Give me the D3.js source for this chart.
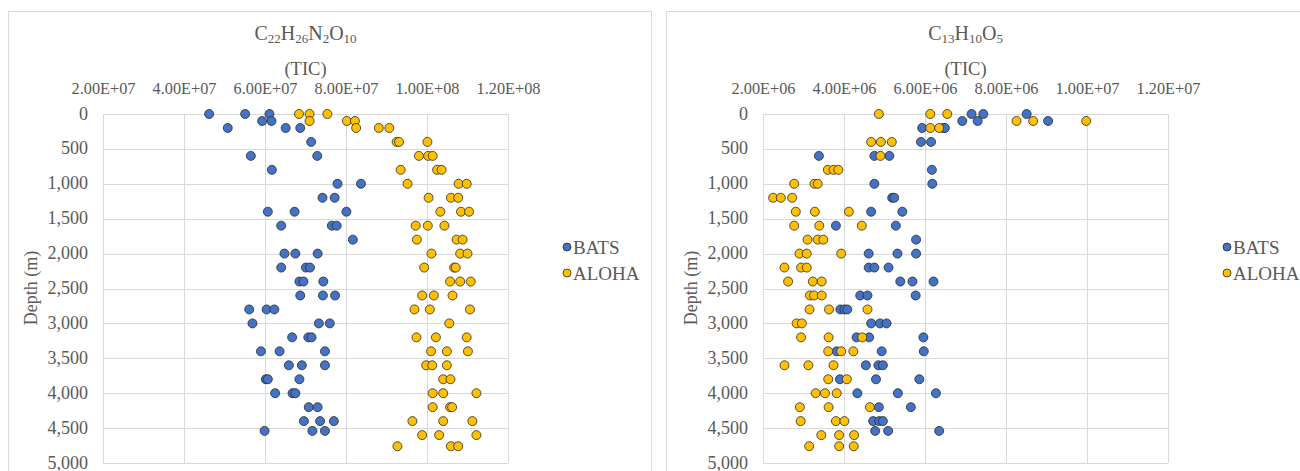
<!DOCTYPE html>
<html>
<head>
	<meta charset="utf-8">
	<title>TIC vs depth</title>
	<script src="https://d3js.org/d3.v7.min.js"></script>
	<style type="text/css">
		*
		{
			margin:0;
			padding:0;
		}
		body
		{
			background:#fff;
		}
		.grid line
		{
			stroke:#d9d9d9;
			stroke-width:1;
		}
		.axis path
		{
			display:none;
		}
	</style>
</head>
<body>
	<div id="chart"></div>
	<script>
		// ---- data: [depth (m), TIC] ----
		const depthTicks = [0, 500, 1000, 1500, 2000, 2500, 3000, 3500, 4000, 4500, 5000];
		const seriesNames = ["BATS", "ALOHA"];

		const c22Title = [["C", 0], ["22", 1], ["H", 0], ["26", 1], ["N", 0], ["2", 1], ["O", 0], ["10", 1]];
		const c22Ticks = [2e7, 4e7, 6e7, 8e7, 1e8, 1.2e8];
		const c22Bats = [
			[0, 4.62e7], [0, 5.51e7], [0, 6.11e7],
			[100, 5.93e7], [100, 6.16e7],
			[200, 5.08e7], [200, 6.51e7], [200, 6.87e7],
			[400, 7.14e7],
			[600, 5.65e7], [600, 7.29e7],
			[800, 6.17e7],
			[1000, 7.79e7], [1000, 8.37e7],
			[1200, 7.42e7], [1200, 7.72e7],
			[1400, 6.07e7], [1400, 6.73e7], [1400, 8.01e7],
			[1600, 6.40e7], [1600, 7.65e7], [1600, 7.77e7],
			[1800, 8.17e7],
			[2000, 6.48e7], [2000, 6.75e7], [2000, 7.30e7],
			[2200, 6.40e7], [2200, 7.01e7], [2200, 7.11e7],
			[2400, 6.85e7], [2400, 6.95e7], [2400, 7.44e7],
			[2600, 6.87e7], [2600, 7.43e7], [2600, 7.73e7],
			[2800, 5.61e7], [2800, 6.04e7], [2800, 6.23e7],
			[3000, 5.69e7], [3000, 7.33e7], [3000, 7.60e7],
			[3200, 6.67e7], [3200, 7.07e7], [3200, 7.15e7],
			[3400, 5.90e7], [3400, 6.36e7], [3400, 7.48e7],
			[3600, 6.59e7], [3600, 6.91e7], [3600, 7.48e7],
			[3800, 6.02e7], [3800, 6.07e7], [3800, 6.85e7],
			[4000, 6.25e7], [4000, 6.68e7], [4000, 6.75e7],
			[4200, 7.08e7], [4200, 7.30e7],
			[4400, 6.96e7], [4400, 7.36e7], [4400, 7.70e7],
			[4540, 5.99e7], [4540, 7.17e7], [4540, 7.48e7]
		];
		const c22Aloha = [
			[0, 6.84e7], [0, 7.10e7], [0, 7.54e7],
			[100, 7.10e7], [100, 8.02e7], [100, 8.22e7],
			[200, 8.25e7], [200, 8.81e7], [200, 9.07e7],
			[400, 9.25e7], [400, 9.31e7], [400, 1.001e8],
			[600, 9.80e7], [600, 1.003e8], [600, 1.014e8],
			[800, 9.35e7], [800, 1.025e8], [800, 1.036e8],
			[1000, 9.52e7], [1000, 1.078e8], [1000, 1.098e8],
			[1200, 1.004e8], [1200, 1.059e8], [1200, 1.077e8],
			[1400, 1.033e8], [1400, 1.084e8], [1400, 1.104e8],
			[1600, 9.72e7], [1600, 1.002e8], [1600, 1.043e8],
			[1800, 9.75e7], [1800, 1.073e8], [1800, 1.088e8],
			[2000, 1.011e8], [2000, 1.082e8], [2000, 1.100e8],
			[2200, 9.93e7], [2200, 1.067e8], [2200, 1.071e8],
			[2400, 1.057e8], [2400, 1.082e8], [2400, 1.108e8],
			[2600, 9.88e7], [2600, 1.017e8], [2600, 1.063e8],
			[2800, 9.69e7], [2800, 1.007e8], [2800, 1.106e8],
			[3000, 1.055e8],
			[3200, 9.74e7], [3200, 1.022e8], [3200, 1.098e8],
			[3400, 1.010e8], [3400, 1.049e8], [3400, 1.101e8],
			[3600, 9.98e7], [3600, 1.013e8], [3600, 1.049e8],
			[3800, 1.040e8], [3800, 1.058e8],
			[4000, 1.014e8], [4000, 1.040e8], [4000, 1.122e8],
			[4200, 1.014e8], [4200, 1.057e8], [4200, 1.062e8],
			[4400, 9.64e7], [4400, 1.040e8], [4400, 1.112e8],
			[4600, 9.88e7], [4600, 1.030e8], [4600, 1.122e8],
			[4760, 9.27e7], [4760, 1.059e8], [4760, 1.077e8]
		];

		const c13Title = [["C", 0], ["13", 1], ["H", 0], ["10", 1], ["O", 0], ["5", 1]];
		const c13Ticks = [2e6, 4e6, 6e6, 8e6, 1e7, 1.2e7];
		const c13Bats = [
			[0, 7.15e6], [0, 7.44e6], [0, 8.51e6],
			[100, 6.92e6], [100, 7.30e6], [100, 9.04e6],
			[200, 5.93e6], [200, 6.45e6], [200, 6.49e6],
			[400, 5.90e6], [400, 6.15e6],
			[600, 3.38e6], [600, 4.75e6], [600, 5.12e6],
			[800, 6.17e6],
			[1000, 4.75e6], [1000, 6.18e6],
			[1200, 5.19e6], [1200, 5.24e6],
			[1400, 4.67e6], [1400, 5.44e6],
			[1600, 3.80e6], [1600, 5.28e6],
			[1800, 5.78e6],
			[2000, 4.61e6], [2000, 5.32e6], [2000, 5.78e6],
			[2200, 4.61e6], [2200, 4.75e6], [2200, 5.10e6],
			[2400, 5.39e6], [2400, 5.69e6], [2400, 6.21e6],
			[2600, 4.40e6], [2600, 4.58e6], [2600, 5.77e6],
			[2800, 3.91e6], [2800, 4.01e6], [2800, 4.08e6],
			[3000, 4.67e6], [3000, 4.89e6], [3000, 5.05e6],
			[3200, 4.31e6], [3200, 4.62e6], [3200, 5.96e6],
			[3400, 3.82e6], [3400, 4.93e6], [3400, 5.97e6],
			[3600, 4.54e6], [3600, 4.85e6], [3600, 4.96e6],
			[3800, 3.90e6], [3800, 4.79e6], [3800, 5.86e6],
			[4000, 4.33e6], [4000, 5.33e6], [4000, 6.27e6],
			[4200, 4.86e6], [4200, 5.65e6],
			[4400, 4.72e6], [4400, 4.87e6], [4400, 4.96e6],
			[4540, 4.77e6], [4540, 5.09e6], [4540, 6.35e6]
		];
		const c13Aloha = [
			[0, 4.86e6], [0, 6.13e6], [0, 6.55e6],
			[100, 8.26e6], [100, 8.67e6], [100, 9.98e6],
			[200, 6.13e6], [200, 6.35e6],
			[400, 4.67e6], [400, 4.91e6], [400, 5.18e6],
			[600, 4.90e6],
			[800, 3.60e6], [800, 3.74e6], [800, 3.86e6],
			[1000, 2.77e6], [1000, 3.27e6], [1000, 3.35e6],
			[1200, 2.25e6], [1200, 2.44e6], [1200, 2.72e6],
			[1400, 2.81e6], [1400, 3.28e6], [1400, 4.12e6],
			[1600, 2.77e6], [1600, 3.39e6], [1600, 4.44e6],
			[1800, 3.10e6], [1800, 3.35e6], [1800, 3.49e6],
			[2000, 2.90e6], [2000, 3.08e6], [2000, 3.93e6],
			[2200, 2.53e6], [2200, 2.94e6], [2200, 3.08e6],
			[2400, 2.62e6], [2400, 3.23e6], [2400, 3.45e6],
			[2600, 3.16e6], [2600, 3.26e6], [2600, 3.45e6],
			[2800, 3.15e6], [2800, 3.63e6], [2800, 4.58e6],
			[3000, 2.83e6], [3000, 2.96e6],
			[3200, 2.94e6], [3200, 3.62e6], [3200, 4.45e6],
			[3400, 3.61e6], [3400, 3.93e6], [3400, 4.23e6],
			[3600, 2.53e6], [3600, 3.12e6], [3600, 3.74e6],
			[3800, 3.61e6], [3800, 4.07e6],
			[4000, 3.30e6], [4000, 3.53e6], [4000, 3.82e6],
			[4200, 2.91e6], [4200, 3.62e6], [4200, 4.64e6],
			[4400, 2.93e6], [4400, 3.80e6], [4400, 4.01e6],
			[4600, 3.44e6], [4600, 3.88e6], [4600, 4.25e6],
			[4760, 3.14e6], [4760, 3.88e6], [4760, 4.24e6]
		];

		const colors = ["#4472c4", "#ffc000"];
		const width = 1300, height = 471;
		const serif = "Liberation Serif";

		const svg = d3.select("#chart").append("svg")
			.attr("width", width).attr("height", height)
			.style("display", "block");

		// excel style 2.00E+07
		function sci(v) {
			let s = v.toExponential(2).toUpperCase();
			let parts = s.split("E");
			let exp = parseInt(parts[1]);
			let sign = exp < 0 ? "-" : "+";
			let e = Math.abs(exp);
			return parts[0] + "E" + sign + (e < 10 ? "0" + e : e);
		}

		function label(sel, size) {
			return sel.attr("font-family", serif)
				.attr("font-size", size)
				.attr("fill", "#595959");
		}

		function drawPanel(p) {
			const g = svg.append("g");

			// panel border
			g.append("rect")
				.attr("x", p.box[0] + 0.5).attr("y", p.box[1] + 0.5)
				.attr("width", p.box[2]).attr("height", p.box[3])
				.attr("fill", "#fff").attr("stroke", "#d9d9d9");

			const x = d3.scaleLinear().domain([p.ticks[0], p.ticks[p.ticks.length - 1]]).range([p.left, p.right]);
			const y = d3.scaleLinear().domain([0, 5000]).range([114, 463]);
			const mid = (p.left + p.right) / 2;

			// gridlines
			const grid = g.append("g").attr("class", "grid");
			grid.selectAll(".v").data(p.ticks).enter().append("line")
				.attr("x1", d => Math.round(x(d)) + 0.5).attr("x2", d => Math.round(x(d)) + 0.5)
				.attr("y1", y(0)).attr("y2", y(5000));
			grid.selectAll(".h").data(depthTicks).enter().append("line")
				.attr("x1", p.left).attr("x2", p.right)
				.attr("y1", d => Math.round(y(d)) + 0.5).attr("y2", d => Math.round(y(d)) + 0.5);

			const top = g.append("g").attr("class", "axis")
				.attr("transform", "translate(0,94)")
				.call(d3.axisTop(x).tickValues(p.ticks).tickSize(0).tickPadding(0).tickFormat(sci));
			top.attr("font-family", serif).attr("font-size", 16.3);
			label(top.selectAll("text"), 16.3).attr("dy", 0);

			const left = g.append("g").attr("class", "axis")
				.attr("transform", "translate(" + (p.left - 15) + ",0)")
				.call(d3.axisLeft(y).tickValues(depthTicks).tickSize(0).tickPadding(0).tickFormat(d3.format(",")));
			left.attr("font-family", serif).attr("font-size", 18);
			label(left.selectAll("text"), 18).attr("dy", 5);

			// titles
			const t = label(g.append("text"), 20)
				.attr("x", mid).attr("y", 40)
				.attr("text-anchor", "middle");
			let prev = 0;
			p.title.forEach(part => {
				const shift = part[1] ? 3 : 0;
				t.append("tspan")
					.attr("dy", shift - prev)
					.attr("font-size", part[1] ? 13 : 20)
					.text(part[0]);
				prev = shift;
			});

			label(g.append("text"), 18.5)
				.attr("x", mid).attr("y", 75)
				.attr("text-anchor", "middle")
				.text("(TIC)");

			label(g.append("text"), 18)
				.attr("transform", "translate(" + p.depthX + ",288) rotate(-90)")
				.attr("text-anchor", "middle")
				.text("Depth (m)");

			// points
			[p.bats, p.aloha].forEach((data, i) => {
				g.append("g").selectAll("circle")
					.data(data).enter().append("circle")
					.attr("cx", d => x(d[1]))
					.attr("cy", d => y(d[0]))
					.attr("r", 4.5)
					.attr("fill", colors[i])
					.attr("stroke", "#2a2a2a")
					.attr("stroke-width", 0.8);
			});

			// legend
			const leg = g.append("g").selectAll("g")
				.data(seriesNames).enter().append("g")
				.attr("transform", (d, i) => "translate(" + p.legendX + "," + (247 + i * 26) + ")");
			leg.append("circle")
				.attr("r", 4)
				.attr("fill", (d, i) => colors[i])
				.attr("stroke", "#2a2a2a")
				.attr("stroke-width", 0.8);
			label(leg.append("text"), 19)
				.attr("x", 6).attr("y", 7)
				.text(d => d);
		}

		drawPanel({
			box: [8, 11, 643, 470], left: 103, right: 508,
			ticks: c22Ticks, depthX: 37,
			title: c22Title,
			bats: c22Bats, aloha: c22Aloha, legendX: 567
		});
		drawPanel({
			box: [666, 11, 650, 470], left: 763, right: 1168,
			ticks: c13Ticks, depthX: 697,
			title: c13Title,
			bats: c13Bats, aloha: c13Aloha, legendX: 1227
		});
	</script>
</body>
</html>
